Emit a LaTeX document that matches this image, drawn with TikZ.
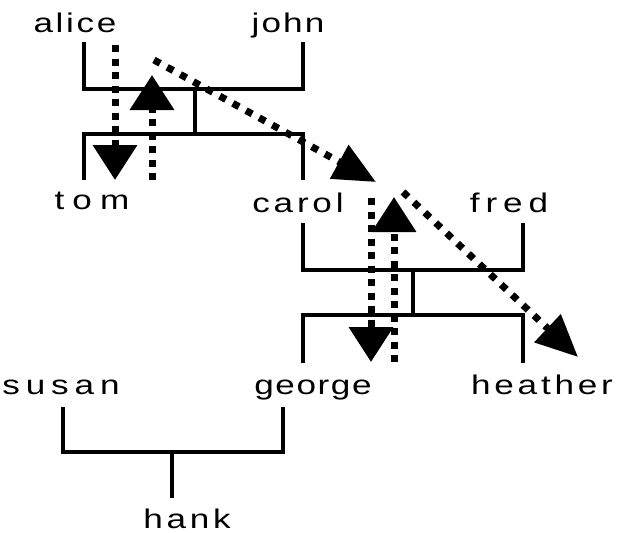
\documentclass[tikz,border=0pt]{standalone}
\usepackage{fontspec}
\newfontfamily\lab[FakeStretch=1.3,LetterSpace=14]{Liberation Sans}
\newcommand\trk[1]{\addfontfeature{LetterSpace=#1}}
\usetikzlibrary{arrows.meta}
\begin{document}
\begin{tikzpicture}[x=1pt,y=-1pt,
  lbl/.style={font=\lab\fontsize{27}{27}\selectfont, inner sep=0pt, anchor=base},
  bracket/.style={line width=3.5pt, line cap=butt, line join=miter},
  vflow/.style={line width=7pt, dash pattern=on 7pt off 6.5pt, -{Triangle[width=43pt,length=35pt]}},
  dflow/.style={line width=7pt, dash pattern=on 7pt off 8pt, -{Triangle[width=37pt,length=42pt]}},
]
\useasboundingbox (0,0) rectangle (619,533);
% names
\node[lbl] (alice) at (75,32) {\trk{10}alice};
\node[lbl] (john) at (288,32) {\trk{8}john};
\node[lbl] (tom) at (92,209) {\trk{30}tom};
\node[lbl] (carol) at (298,212) {carol};
\node[lbl] (fred) at (509,212) {\trk{22}fred};
\node[lbl] (george) at (313,394) {\trk{6}george};
\node[lbl] (heather) at (542,394) {heather};
\node[lbl] (susan) at (61,394) {\trk{22}susan};
\node[lbl, text depth=0pt] (hank) at (187,528) {hank};
% bracket coordinates, family 1
\coordinate (f1a) at (84,42);
\coordinate (f1j) at (303,42);
\coordinate (f1al) at (84,89);
\coordinate (f1jl) at (303,89);
\coordinate (f1m) at (195,89);
\coordinate (f1d) at (195,134);
\coordinate (f1tl) at (84,134);
\coordinate (f1cl) at (303,134);
\coordinate (f1t) at (84,180);
\coordinate (f1c) at (303,180);
% family 2
\coordinate (f2c) at (303,223);
\coordinate (f2f) at (523,223);
\coordinate (f2cl) at (303,270);
\coordinate (f2fl) at (523,270);
\coordinate (f2m) at (413,270);
\coordinate (f2d) at (413,315);
\coordinate (f2gl) at (303,315);
\coordinate (f2hl) at (523,315);
\coordinate (f2g) at (303,363);
\coordinate (f2h) at (523,363);
% family 3
\coordinate (f3s) at (63,407);
\coordinate (f3g) at (283,407);
\coordinate (f3sl) at (63,452);
\coordinate (f3gl) at (283,452);
\coordinate (f3m) at (172,452);
\coordinate (f3d) at (172,498);
\draw[bracket] (f1a) -- (f1al) -- (f1jl) -- (f1j);
\draw[bracket] (f1m) -- (f1d);
\draw[bracket] (f1t) -- (f1tl) -- (f1cl) -- (f1c);
\draw[bracket] (f2c) -- (f2cl) -- (f2fl) -- (f2f);
\draw[bracket] (f2m) -- (f2d);
\draw[bracket] (f2g) -- (f2gl) -- (f2hl) -- (f2h);
\draw[bracket] (f3s) -- (f3sl) -- (f3gl) -- (f3g);
\draw[bracket] (f3m) -- (f3d);
% flow arrows
\coordinate (a1s) at (115,45);  \coordinate (a1e) at (115,180);
\coordinate (a2s) at (152,180); \coordinate (a2e) at (152,75);
\coordinate (a3s) at (154,60);  \coordinate (a3e) at (376,182);
\coordinate (a4s) at (371,198); \coordinate (a4e) at (371,362);
\coordinate (a5s) at (394,362); \coordinate (a5e) at (394,197);
\coordinate (a6s) at (403,192); \coordinate (a6e) at (578,357);
\draw[vflow] (a1s) -- (a1e);
\draw[vflow] (a2s) -- (a2e);
\draw[dflow] (a3s) -- (a3e);
\draw[vflow] (a4s) -- (a4e);
\draw[vflow] (a5s) -- (a5e);
\draw[dflow] (a6s) -- (a6e);
\end{tikzpicture}
\end{document}
